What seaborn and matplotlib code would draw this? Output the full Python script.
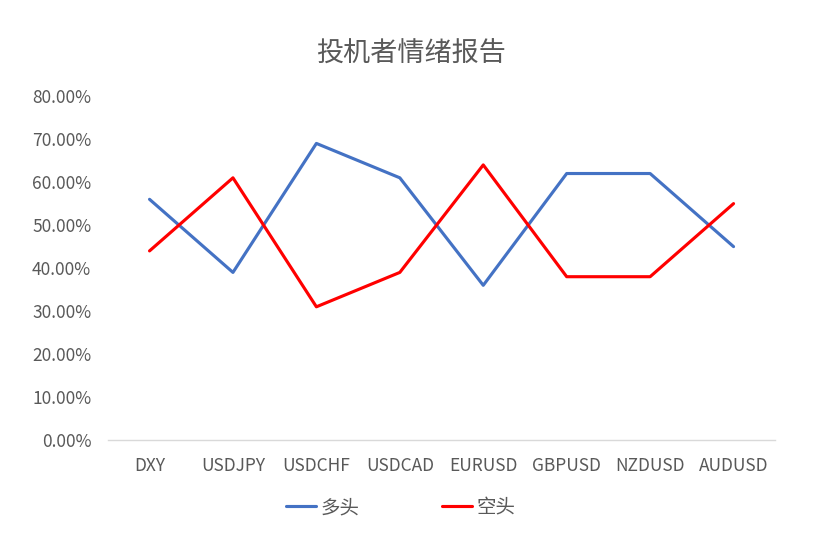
import pandas as pd
import matplotlib
matplotlib.use('Agg')
import matplotlib.pyplot as plt
import seaborn as sns
from matplotlib.ticker import PercentFormatter

# data
pairs = ['DXY', 'USDJPY', 'USDCHF', 'USDCAD', 'EURUSD', 'GBPUSD', 'NZDUSD', 'AUDUSD']
long_pct = [0.56, 0.39, 0.69, 0.61, 0.36, 0.62, 0.62, 0.45]
short_pct = [0.44, 0.61, 0.31, 0.39, 0.64, 0.38, 0.38, 0.55]

df = pd.DataFrame({'pair': pairs * 2,
                   'pos': list(range(len(pairs))) * 2,
                   'value': long_pct + short_pct,
                   'side': ['多头'] * len(pairs) + ['空头'] * len(pairs)})

sns.set_style('white')
plt.rcParams['font.family'] = ['Noto Sans CJK SC', 'DejaVu Sans']

fig = plt.figure(figsize=(8.23, 5.4), dpi=100)
ax = fig.add_axes([0.131, 0.185, 0.811, 0.637])

sns.lineplot(data=df, x='pos', y='value', hue='side',
             palette={'多头': '#4472C4', '空头': '#FF0000'},
             linewidth=2.25, ax=ax, legend=True)

ax.set_xlim(-0.5, len(pairs) - 0.5)
ax.set_ylim(0, 0.8)
ax.set_xticks(range(len(pairs)))
ax.set_xticklabels(pairs)
ax.set_yticks([i / 10 for i in range(9)])
ax.yaxis.set_major_formatter(PercentFormatter(1.0, decimals=2))
ax.tick_params(axis='both', length=0, labelsize=12.5, colors='#595959')
ax.tick_params(axis='x', pad=12)
ax.tick_params(axis='y', pad=12)
ax.set_xlabel('')
ax.set_ylabel('')

for s in ['top', 'right', 'left']:
    ax.spines[s].set_visible(False)
ax.spines['bottom'].set_color('#D9D9D9')
ax.spines['bottom'].set_linewidth(1)

fig.suptitle('投机者情绪报告', y=0.925, fontsize=19.5, color='#595959')

ax.legend(title=None, loc='center', bbox_to_anchor=(0.487, 0.06),
          bbox_transform=fig.transFigure, ncol=2, frameon=False,
          fontsize=14, labelcolor='#595959', handlelength=1.55,
          columnspacing=4.2, handletextpad=0.25)

fig.savefig('out.png', dpi=100)
